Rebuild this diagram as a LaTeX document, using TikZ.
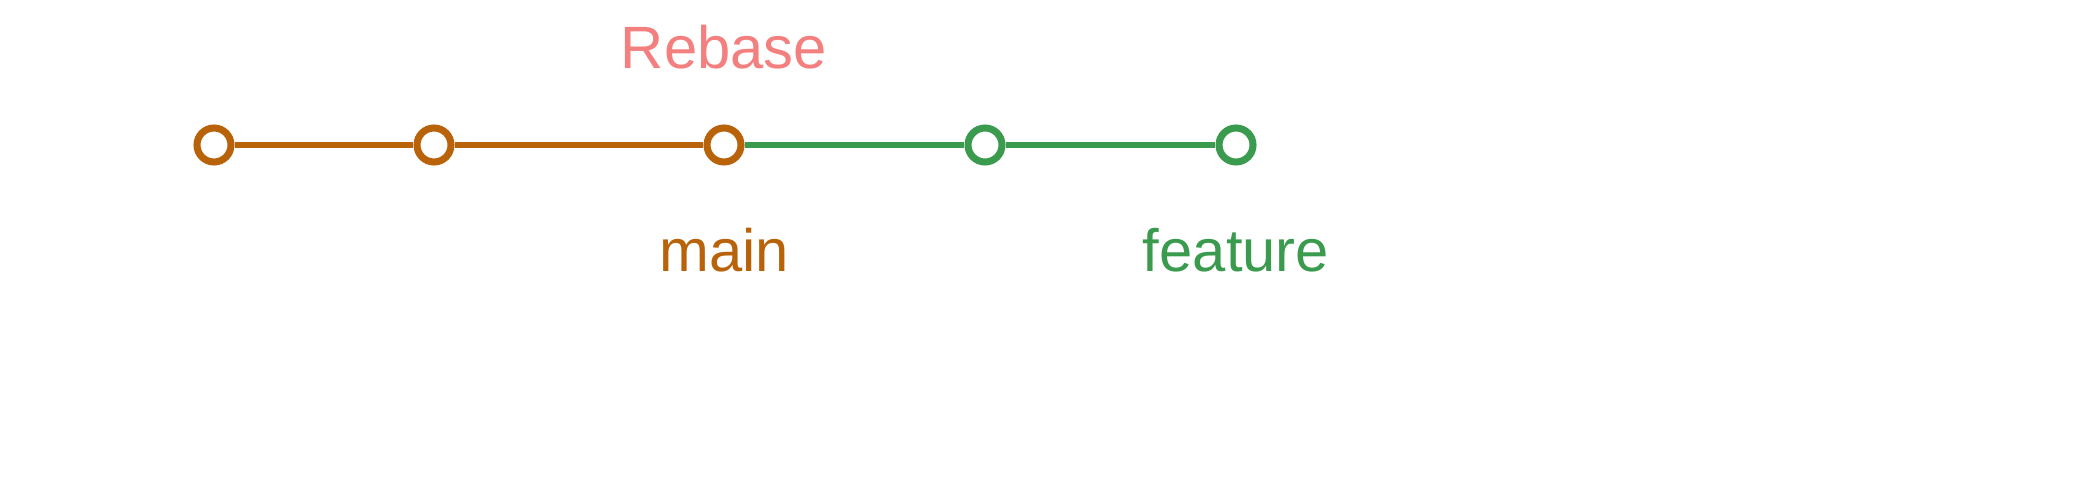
\documentclass[tikz,border=0pt]{standalone}
\usepackage{fontspec}
\setmainfont{Liberation Sans}
\definecolor{mainc}{HTML}{B8620A}
\definecolor{featc}{HTML}{3A9A4E}
\definecolor{rebc}{HTML}{F47F7F}
\begin{document}
\begin{tikzpicture}[x=0.01cm,y=-0.01cm,
  commit/.style={circle,draw=#1,line width=2pt,fill=white,minimum size=0.34cm,inner sep=0pt},
  edge/.style={draw=#1,line width=1.9pt},
  lbl/.style={font=\fontsize{17}{20}\selectfont,text=#1}]
\useasboundingbox (0,0) rectangle (2089,479);
\node[lbl=rebc] (reb) at (724,47) {Rebase};
\node[commit=mainc] (c1) at (214,145) {};
\node[commit=mainc] (c2) at (434,145) {};
\node[commit=mainc] (c3) at (724,145) {};
\node[commit=featc] (c4) at (985,145) {};
\node[commit=featc] (c5) at (1236,145) {};
\draw[edge=mainc] (c1) -- (c2);
\draw[edge=mainc] (c2) -- (c3);
\draw[edge=featc] (c3) -- (c4);
\draw[edge=featc] (c4) -- (c5);
\node[lbl=mainc] (m) at (724,250) {main};
\node[lbl=featc] (f) at (1236,250) {feature};
\end{tikzpicture}
\end{document}
